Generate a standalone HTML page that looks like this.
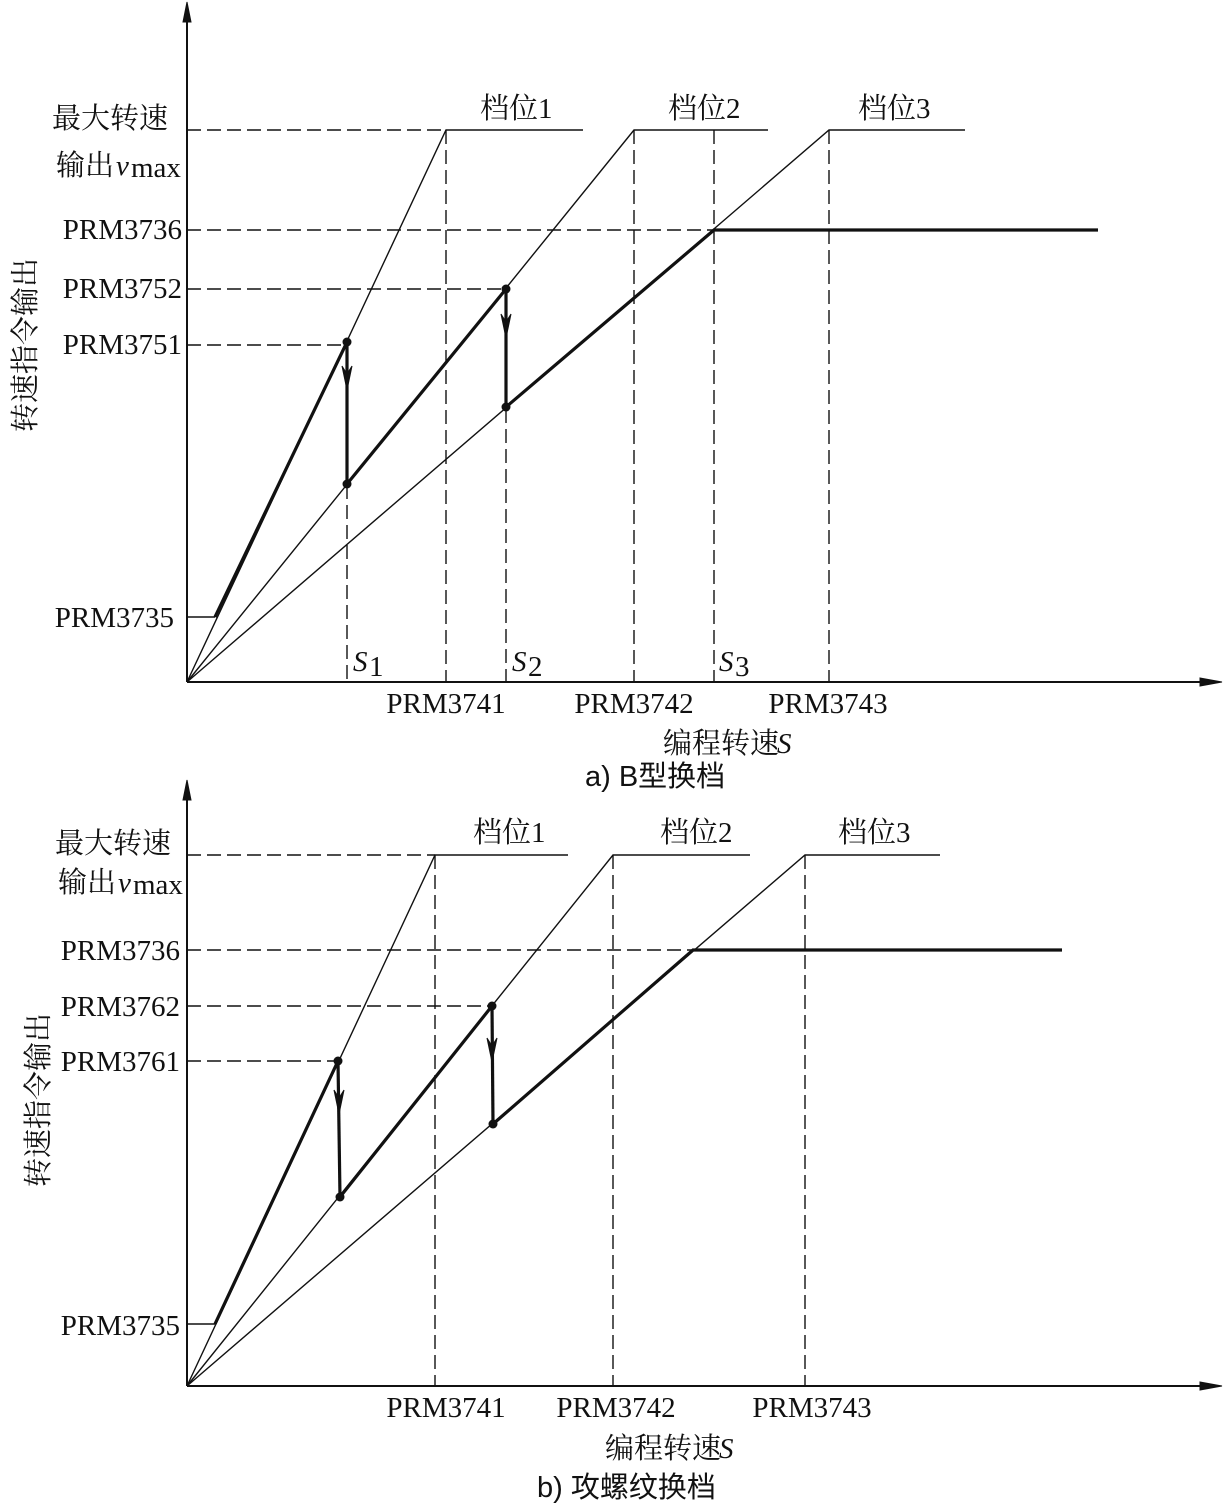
<!DOCTYPE html>
<html><head><meta charset="utf-8"><style>
html,body{margin:0;padding:0;background:#fff}
svg{display:block}
text{font-family:"Liberation Serif","Noto Serif CJK SC",serif;font-size:29px;fill:#111}
.it{font-family:"Liberation Serif",serif;font-style:italic}
.cap{font-family:"Liberation Sans","Noto Sans CJK SC",sans-serif;font-size:29px}
</style></head><body>
<svg width="1225" height="1505" viewBox="0 0 1225 1505" xmlns="http://www.w3.org/2000/svg">
<g stroke="#111" fill="none">
<!-- TOP -->
<line x1="187" y1="682" x2="187" y2="8" stroke-width="2"/>
<path d="M183,22 L187,2 L191,22 Z" fill="#111"/>
<line x1="187" y1="682" x2="1212" y2="682" stroke-width="2"/>
<path d="M1200,678 L1222,682 L1200,686 Z" fill="#111"/>
<g stroke-width="1.4" stroke-dasharray="14,6">
<line x1="187" y1="130" x2="446" y2="130"/>
<line x1="187" y1="230" x2="714" y2="230"/>
<line x1="187" y1="289" x2="506" y2="289"/>
<line x1="187" y1="345" x2="347" y2="345"/>
<line x1="347" y1="345" x2="347" y2="682"/>
<line x1="446" y1="130" x2="446" y2="682"/>
<line x1="506" y1="289" x2="506" y2="682"/>
<line x1="634" y1="130" x2="634" y2="682"/>
<line x1="714" y1="130" x2="714" y2="682"/>
<line x1="829" y1="130" x2="829" y2="682"/>
</g>
<g stroke-width="1.4">
<polyline points="187,682 446,130 583,130"/>
<polyline points="187,682 634,130 768,130"/>
<polyline points="187,682 829,130 965,130"/>
<line x1="187" y1="617" x2="215" y2="617"/>
</g>
<g stroke-width="3.2">
<line x1="215" y1="617" x2="347" y2="342"/>
<line x1="347" y1="342" x2="347" y2="484"/>
<line x1="347" y1="484" x2="506" y2="289"/>
<line x1="506" y1="289" x2="506" y2="407"/>
<polyline points="506,407 714,230 1098,230"/>
</g>
<path d="M342,366 L347,390 L352,366 L347,374 Z" fill="#111" stroke-width="1"/>
<path d="M501,314 L506,338 L511,314 L506,322 Z" fill="#111" stroke-width="1"/>
<!-- BOTTOM -->
<line x1="187" y1="1386" x2="187" y2="786" stroke-width="2"/>
<path d="M183,800 L187,780 L191,800 Z" fill="#111"/>
<line x1="187" y1="1386" x2="1212" y2="1386" stroke-width="2"/>
<path d="M1200,1382 L1222,1386 L1200,1390 Z" fill="#111"/>
<g stroke-width="1.4" stroke-dasharray="14,6">
<line x1="187" y1="855" x2="435" y2="855"/>
<line x1="187" y1="950" x2="693" y2="950"/>
<line x1="187" y1="1006" x2="492" y2="1006"/>
<line x1="187" y1="1061" x2="338" y2="1061"/>
<line x1="435" y1="855" x2="435" y2="1386"/>
<line x1="613" y1="855" x2="613" y2="1386"/>
<line x1="805" y1="855" x2="805" y2="1386"/>
</g>
<g stroke-width="1.4">
<polyline points="187,1386 435,855 568,855"/>
<polyline points="187,1386 613,855 750,855"/>
<polyline points="187,1386 805,855 940,855"/>
<line x1="187" y1="1324" x2="215" y2="1324"/>
</g>
<g stroke-width="3.2">
<line x1="215" y1="1324" x2="338" y2="1061"/>
<line x1="338" y1="1061" x2="340" y2="1197"/>
<line x1="340" y1="1197" x2="492" y2="1006"/>
<line x1="492" y1="1006" x2="493" y2="1124"/>
<polyline points="493,1124 693,950 1062,950"/>
</g>
<path d="M334,1090 L339,1114 L344,1090 L339,1098 Z" fill="#111" stroke-width="1"/>
<path d="M487,1038 L492,1062 L497,1038 L492,1046 Z" fill="#111" stroke-width="1"/>
</g>
<g fill="#111">
<circle cx="347" cy="342" r="4.5"/><circle cx="347" cy="484" r="4.5"/>
<circle cx="506" cy="289" r="4.5"/><circle cx="506" cy="407" r="4.5"/>
<circle cx="338" cy="1061" r="4.5"/><circle cx="340" cy="1197" r="4.5"/>
<circle cx="492" cy="1006" r="4.5"/><circle cx="493" cy="1124" r="4.5"/>
</g>
<!-- top labels -->
<text x="52" y="128">最大转速</text>
<text x="56" y="175">输出</text><text x="116" y="175" class="it">v</text>
<text x="131" y="177" font-size="21">max</text>
<g text-anchor="end">
<text x="182" y="239">PRM3736</text>
<text x="182" y="298">PRM3752</text>
<text x="182" y="354">PRM3751</text>
<text x="174" y="627">PRM3735</text>
</g>
<text x="480" y="118" font-size="27">档位1</text>
<text x="668" y="118" font-size="27">档位2</text>
<text x="858" y="118" font-size="27">档位3</text>
<text x="353" y="671" class="it" font-size="27">S</text><text x="369" y="676" font-size="19">1</text>
<text x="512" y="671" class="it" font-size="27">S</text><text x="528" y="676" font-size="19">2</text>
<text x="719" y="671" class="it" font-size="27">S</text><text x="735" y="676" font-size="19">3</text>
<text x="446" y="713" text-anchor="middle">PRM3741</text>
<text x="634" y="713" text-anchor="middle">PRM3742</text>
<text x="828" y="713" text-anchor="middle">PRM3743</text>
<text x="663" y="753" font-size="28">编程转速</text><text x="777" y="753" class="it" font-size="28">S</text>
<text x="585" y="786" class="cap">a) B型换档</text>
<text transform="translate(35,432) rotate(-90)" font-size="29">转速指令输出</text>
<!-- bottom labels -->
<text x="55" y="853">最大转速</text>
<text x="58" y="892">输出</text><text x="118" y="892" class="it">v</text>
<text x="133" y="894" font-size="21">max</text>
<g text-anchor="end">
<text x="180" y="960">PRM3736</text>
<text x="180" y="1016">PRM3762</text>
<text x="180" y="1071">PRM3761</text>
<text x="180" y="1335">PRM3735</text>
</g>
<text x="473" y="842" font-size="27">档位1</text>
<text x="660" y="842" font-size="27">档位2</text>
<text x="838" y="842" font-size="27">档位3</text>
<text x="446" y="1417" text-anchor="middle">PRM3741</text>
<text x="616" y="1417" text-anchor="middle">PRM3742</text>
<text x="812" y="1417" text-anchor="middle">PRM3743</text>
<text x="605" y="1458" font-size="28">编程转速</text><text x="719" y="1458" class="it" font-size="28">S</text>
<text x="537" y="1497" class="cap">b) 攻螺纹换档</text>
<text transform="translate(48,1187) rotate(-90)" font-size="29">转速指令输出</text>
</svg>
</body></html>
